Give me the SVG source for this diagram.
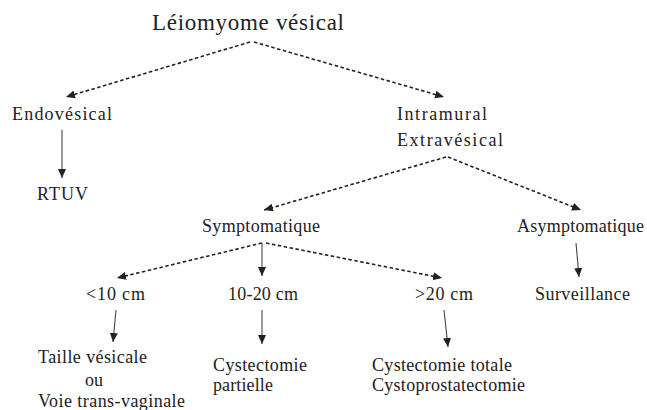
<svg xmlns="http://www.w3.org/2000/svg" width="647" height="410" viewBox="0 0 647 410">
<style>
text{font-family:"Liberation Serif","Times New Roman",serif;font-size:18px;fill:#222}
.t{font-size:23px}
.c line{stroke:#444;stroke-width:1.1;fill:none}
.c .d{stroke:#222;stroke-width:1.6;stroke-dasharray:3.5 2.5}
</style>
<defs>
<marker id="ah" markerUnits="userSpaceOnUse" markerWidth="10" markerHeight="10" viewBox="0 0 10 10" refX="9" refY="5" orient="auto">
<path d="M0,1 L9,5 L0,9 Z" fill="#222"/>
</marker>
</defs>
<rect width="647" height="410" fill="#fff"/>
<g class="c" id="connectors">
<line class="d" x1="250" y1="42" x2="66" y2="97" marker-end="url(#ah)"/>
<line class="d" x1="254" y1="42" x2="444" y2="97" marker-end="url(#ah)"/>
<line x1="62" y1="130" x2="62" y2="178" marker-end="url(#ah)"/>
<line class="d" x1="446" y1="157" x2="264" y2="210" marker-end="url(#ah)"/>
<line class="d" x1="448" y1="157" x2="581" y2="210" marker-end="url(#ah)"/>
<line class="d" x1="262" y1="243" x2="117" y2="278" marker-end="url(#ah)"/>
<line x1="262" y1="243" x2="262" y2="276" marker-end="url(#ah)"/>
<line class="d" x1="266" y1="243" x2="442" y2="278" marker-end="url(#ah)"/>
<line x1="576" y1="243" x2="579" y2="277" marker-end="url(#ah)"/>
<line x1="116" y1="310" x2="113" y2="342" marker-end="url(#ah)"/>
<line x1="262" y1="310" x2="262" y2="344" marker-end="url(#ah)"/>
<line x1="444" y1="310" x2="448" y2="347" marker-end="url(#ah)"/>
</g>
<g id="n-root"><text class="t" x="152" y="30" textLength="192" lengthAdjust="spacing">Léiomyome vésical</text></g>
<g id="n-endo"><text x="12" y="120" textLength="100" lengthAdjust="spacing">Endovésical</text></g>
<g id="n-intra"><text x="397" y="120" textLength="90" lengthAdjust="spacing">Intramural</text><text x="397" y="146" textLength="106" lengthAdjust="spacing">Extravésical</text></g>
<g id="n-rtuv"><text x="37" y="200" textLength="51" lengthAdjust="spacing">RTUV</text></g>
<g id="n-sympt"><text x="202" y="232" textLength="118" lengthAdjust="spacing">Symptomatique</text></g>
<g id="n-asympt"><text x="517" y="232" textLength="127" lengthAdjust="spacing">Asymptomatique</text></g>
<g id="n-lt10"><text x="86" y="300" textLength="59" lengthAdjust="spacing">&lt;10 cm</text></g>
<g id="n-10-20"><text x="228" y="300" textLength="70" lengthAdjust="spacing">10-20 cm</text></g>
<g id="n-gt20"><text x="415" y="300" textLength="58" lengthAdjust="spacing">&gt;20 cm</text></g>
<g id="n-surv"><text x="535" y="300" textLength="95" lengthAdjust="spacing">Surveillance</text></g>
<g id="n-taille"><text x="38" y="363" textLength="109" lengthAdjust="spacing">Taille vésicale</text><text x="85" y="386" textLength="18" lengthAdjust="spacing">ou</text><text x="38" y="407" textLength="147" lengthAdjust="spacing">Voie trans-vaginale</text></g>
<g id="n-partielle"><text x="213" y="371" textLength="94" lengthAdjust="spacing">Cystectomie</text><text x="213" y="391" textLength="60" lengthAdjust="spacing">partielle</text></g>
<g id="n-totale"><text x="372" y="371" textLength="140" lengthAdjust="spacing">Cystectomie totale</text><text x="372" y="391" textLength="153" lengthAdjust="spacing">Cystoprostatectomie</text></g>
</svg>
